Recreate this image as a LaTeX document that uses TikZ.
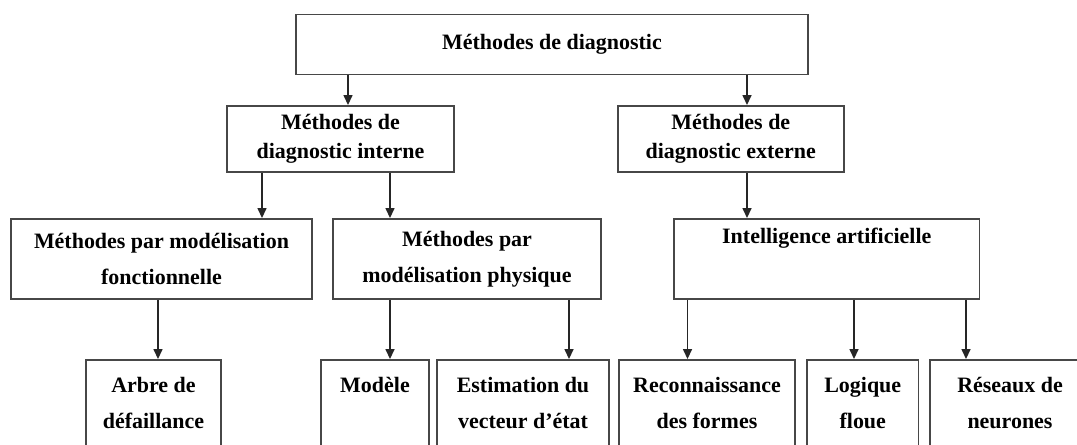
\documentclass[tikz,border=0pt]{standalone}
\usepackage{fontspec}
\setmainfont{Liberation Serif}
\usetikzlibrary{positioning,arrows.meta}

\begin{document}
\begin{tikzpicture}[
  x=0.02cm, y=-0.02cm,
  every node/.style={font=\bfseries\fontsize{12.5}{16.5}\selectfont},
  box/.style={rectangle, draw=black!72, line width=1.1pt, inner sep=2pt, align=center},
  lowbox/.style={box, font=\bfseries\fontsize{12.5}{20.5}\selectfont},
  intext/.style={anchor=north, align=center, inner sep=0pt,
                 font=\bfseries\fontsize{12.5}{20.5}\selectfont},
  arr/.style={-{Triangle[width=0.18cm, length=0.2cm]}, line width=0.85pt, color=black!85}
]
  \useasboundingbox (0,0) rectangle (1077,445);
  \clip (0,0) rectangle (1077,445);

  % top level
  \node[box, minimum width=10.24cm, minimum height=1.2cm] (diag) at (552,44.5) {M\'ethodes de diagnostic};

  % second level
  \node[box, minimum width=4.54cm, minimum height=1.32cm] (interne) at (340.5,139) {M\'ethodes de\\diagnostic interne};
  \node[box, minimum width=4.52cm, minimum height=1.32cm] (externe) at (730.75,139) {M\'ethodes de\\diagnostic externe};

  % third level
  \node[lowbox, minimum width=6.02cm, minimum height=1.6cm] (fonct) at (161.5,259) {M\'ethodes par mod\'elisation\\fonctionnelle};
  \node[lowbox, minimum width=5.36cm, minimum height=1.6cm] (phys) at (467,259) {M\'ethodes par\\mod\'elisation physique};
  \node[box, minimum width=6.11cm, minimum height=1.6cm,
        label={[intext, name=ia-t, yshift=-0.19cm]north:Intelligence artificielle}] (ia) at (826.75,259) {};

  % leaves
  \node[box, minimum width=2.7cm, minimum height=2.4cm,
        label={[intext, name=arbre-t, yshift=-0.35cm]north:Arbre de\\d\'efaillance}] (arbre) at (153.5,420) {};
  \node[box, minimum width=2.16cm, minimum height=2.4cm,
        label={[intext, name=modele-t, yshift=-0.35cm]north:Mod\`ele}] (modele) at (375,420) {};
  \node[box, minimum width=3.44cm, minimum height=2.4cm,
        label={[intext, name=estim-t, yshift=-0.35cm]north:Estimation du\\vecteur d'\'etat}] (estim) at (523,420) {};
  \node[box, minimum width=3.52cm, minimum height=2.4cm,
        label={[intext, name=reco-t, yshift=-0.35cm]north:Reconnaissance\\des formes}] (reco) at (707,420) {};
  \node[box, minimum width=2.23cm, minimum height=2.4cm,
        label={[intext, name=logique-t, yshift=-0.35cm]north:Logique\\floue}] (logique) at (862.75,420) {};
  \node[box, minimum width=3.2cm, minimum height=2.4cm,
        label={[intext, name=reseaux-t, yshift=-0.35cm]north:R\'eseaux de\\neurones}] (reseaux) at (1010,420) {};

  \draw[arr] (diag.south -| 348,0) -- (interne.north -| 348,0);
  \draw[arr] (diag.south -| 747,0) -- (externe.north -| 747,0);
  \draw[arr] (interne.south -| 262,0) -- (fonct.north -| 262,0);
  \draw[arr] (interne.south -| 390,0) -- (phys.north -| 390,0);
  \draw[arr] (externe.south -| 747,0) -- (ia.north -| 747,0);
  \draw[arr] (fonct.south -| 158,0) -- (arbre.north -| 158,0);
  \draw[arr] (phys.south -| 390,0) -- (modele.north -| 390,0);
  \draw[arr] (phys.south -| 569,0) -- (estim.north -| 569,0);
  \draw[arr] (ia.south -| 687.5,0) -- (reco.north -| 687.5,0);
  \draw[arr] (ia.south -| 854,0) -- (logique.north -| 854,0);
  \draw[arr] (ia.south -| 966,0) -- (reseaux.north -| 966,0);
\end{tikzpicture}
\end{document}
